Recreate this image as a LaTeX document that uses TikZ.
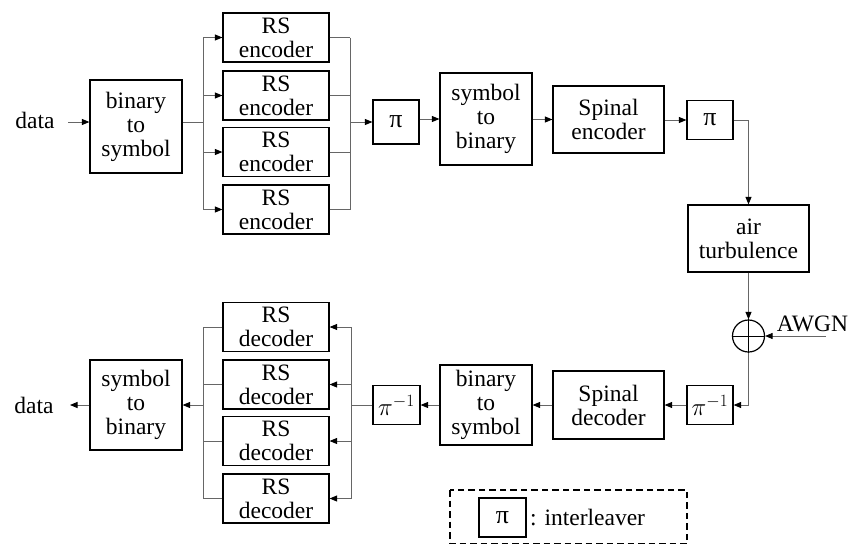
\documentclass[tikz,border=0pt]{standalone}
\usepackage{fontspec}
\setmainfont{Liberation Serif}
\usetikzlibrary{arrows.meta,calc}

\newcommand{\deint}{{\fontsize{27}{27}\selectfont$\pi^{-1}$}}
\newcommand{\intl}{{\fontsize{26}{26}\selectfont π}}

\begin{document}
\begin{tikzpicture}[x=1pt,y=-1pt,
  font=\fontsize{23.5}{24}\selectfont,
  blk/.style={draw=black,line width=1.2pt,rectangle,inner sep=0pt,align=center},
  bigbox/.style={blk,minimum width=92pt},
  rsbox/.style={blk,minimum width=106pt,minimum height=49pt},
  spbox/.style={blk,minimum width=111pt,minimum height=67pt},
  pibox/.style={blk,minimum width=46pt,minimum height=39pt},
  lbl/.style={inner sep=0pt},
  wire/.style={draw=black!60,line width=0.9pt},
  arr/.style={wire,-{Triangle[length=7.5pt,width=6pt,color=black]}},
]
\useasboundingbox (0,0) rectangle (851,544);

% ---------------- transmitter ----------------
\node[lbl,anchor=base] (din) at (35,128.5) {data};
\coordinate (dinend) at (68,122);
\node[bigbox,minimum height=93pt] (b2s) at (136,126.5) {binary\\to\\symbol};

\foreach \i/\y in {1/37.5,2/95.5,3/152,4/209.5}
  \node[rsbox] (enc\i) at (276,\y) {RS\\encoder};

\coordinate (sp1) at (203,122);
\coordinate (mg1) at (350,122);

\node[pibox,minimum height=44pt] (pi1) at (396,122) {\intl};
\node[bigbox,minimum height=92pt] (s2b) at (486,119) {symbol\\to\\binary};
\node[spbox] (spenc) at (608.5,119.5) {Spinal\\encoder};
\node[pibox] (pi2) at (710,120) {\intl};
\node[blk,minimum width=121pt,minimum height=67pt] (air) at (748.5,238.5) {air\\turbulence};

% channel adder
\node[draw=black,circle,line width=1.2pt,minimum size=32pt,inner sep=0pt] (sum) at (748.5,336) {};
\draw[line width=1pt] (sum.north) -- (sum.south) (sum.west) -- (sum.east);
\node[lbl,anchor=base] (awgn) at (812.5,331.5) {AWGN};
\coordinate (awgnin) at (826,336);

% ---------------- receiver ----------------
\node[pibox] (pi3) at (710,405) {\deint};
\node[spbox,minimum height=68pt] (spdec) at (608.5,405) {Spinal\\decoder};
\node[bigbox,minimum height=80pt] (b2s2) at (486,405) {binary\\to\\symbol};
\node[pibox,minimum width=47pt] (pi4) at (396.5,405) {\deint};

\foreach \i/\y in {1/327,2/384.5,3/441,4/498.5}
  \node[rsbox] (dec\i) at (276,\y) {RS\\decoder};

\coordinate (sp2) at (351,405);
\coordinate (mg2) at (203,405);

\node[bigbox,minimum height=90pt] (s2b2) at (136,405) {symbol\\to\\binary};
\node[lbl,anchor=base] (dout) at (34,413.3) {data};
\coordinate (doutend) at (70,405);

% ---------------- legend ----------------
\node[pibox,minimum width=47pt] (legpi) at (502.5,517.5) {\intl};
\node[lbl,anchor=base west] (legtxt) at (530,525) {: interleaver};
\draw[line width=1.3pt,dash pattern=on 6.5pt off 4pt] (450,490) rectangle (687,543.5);

% ---------------- transmitter wiring ----------------
\draw[arr] (dinend) -- (dinend -| b2s.west);
\draw[wire] (b2s.east |- sp1) -- (sp1);
\draw[wire] (sp1 |- enc1) -- (sp1 |- enc4);
\foreach \i in {1,...,4} {
  \draw[arr] (sp1 |- enc\i) -- (enc\i.west);
  \draw[wire] (enc\i.east) -- (mg1 |- enc\i);
}
\draw[wire] (mg1 |- enc1) -- (mg1 |- enc4);
\draw[arr] (mg1) -- (mg1 -| pi1.west);
\draw[arr] (pi1.east |- s2b) -- (s2b.west);
\draw[arr] (s2b.east |- spenc) -- (spenc.west);
\draw[arr] (spenc.east |- pi2) -- (pi2.west);
\draw[arr] (pi2.east) -| (air.north);
\draw[arr] (air.south) -- (sum.north);
\draw[arr] (awgnin) -- (sum.east);

% ---------------- receiver wiring ----------------
\draw[arr] (sum.south) |- (pi3.east);
\draw[arr] (pi3.west) -- (spdec.east);
\draw[arr] (spdec.west) -- (b2s2.east);
\draw[arr] (b2s2.west) -- (pi4.east);
\draw[wire] (pi4.west) -- (sp2);
\draw[wire] (sp2 |- dec1) -- (sp2 |- dec4);
\foreach \i in {1,...,4} {
  \draw[arr] (sp2 |- dec\i) -- (dec\i.east);
  \draw[wire] (dec\i.west) -- (mg2 |- dec\i);
}
\draw[wire] (mg2 |- dec1) -- (mg2 |- dec4);
\draw[arr] (mg2) -- (s2b2.east);
\draw[arr] (s2b2.west) -- (doutend);
\end{tikzpicture}
\end{document}
